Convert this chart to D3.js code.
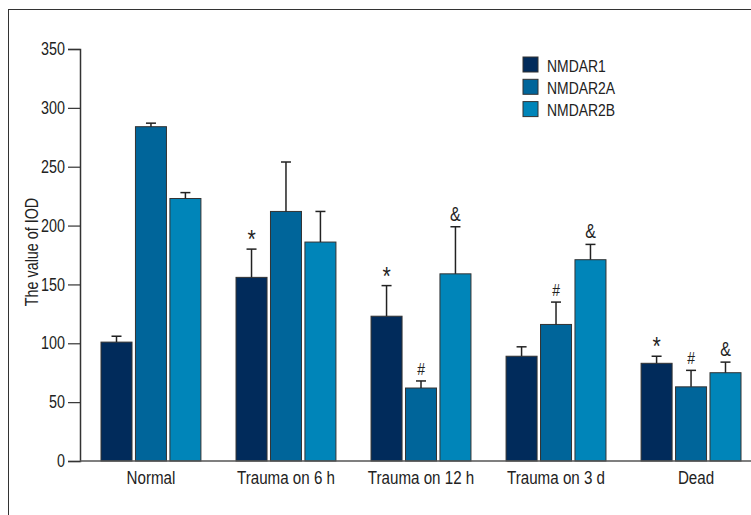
<!DOCTYPE html>
<html>
<head>
<meta charset="utf-8">
<script src="https://cdn.jsdelivr.net/npm/d3@7"></script>
<style>
  body { margin: 0; background: #fff; }
  svg text { font-family: "Liberation Sans", Arial, sans-serif; fill: #222; }
</style>
</head>
<body>
<svg id="chart"></svg>
<script>
// groups along the x axis
const groups = ["Normal", "Trauma on 6 h", "Trauma on 12 h", "Trauma on 3 d", "Dead"];
const series = ["NMDAR1", "NMDAR2A", "NMDAR2B"];

// mean values
const nmdar1 = [101, 156, 123, 89, 83];
const nmdar2a = [284, 212, 62, 116, 63];
const nmdar2b = [223, 186, 159, 171, 75];

// top of the error bars
const nmdar1Err = [106, 180, 149, 97, 89];
const nmdar2aErr = [287, 254, 68, 135, 77];
const nmdar2bErr = [228, 212, 199, 184, 84];

// significance marks (empty = none)
const nmdar1Mark = ["", "*", "*", "", "*"];
const nmdar2aMark = ["", "", "#", "#", "#"];
const nmdar2bMark = ["", "", "&", "&", "&"];

const yTicks = [0, 50, 100, 150, 200, 250, 300, 350];

const colors = ["#012b5b", "#00659a", "#0085b9"];

const width = 751, height = 515;
const narrow = 0.82; // squeeze Liberation Sans to look like a condensed face

const svg = d3.select("#chart").attr("width", width).attr("height", height);

// draws condensed text at x,y
function label(parent, x, y, str, size, anchor, rotate) {
    const g = parent.append("g")
        .attr("transform", `translate(${x},${y})` + (rotate ? ` rotate(${rotate})` : "") + ` scale(${narrow},1)`);
    return g.append("text")
        .attr("text-anchor", anchor || "middle")
        .style("font-size", size + "px")
        .text(str);
}

// figure frame
svg.append("rect")
    .attr("x", 8.5).attr("y", 9.5)
    .attr("width", 760).attr("height", 520)
    .attr("fill", "none")
    .attr("stroke", "#333")
    .attr("stroke-width", 1);

const x0 = d3.scaleBand().domain(groups).range([101, 741]).paddingInner(0.26);
const x1 = d3.scaleBand().domain(series).range([0, x0.bandwidth()]).paddingInner(0.1);
const y = d3.scaleLinear().domain([0, 350]).range([461, 49]);

const values = [nmdar1, nmdar2a, nmdar2b];
const errs = [nmdar1Err, nmdar2aErr, nmdar2bErr];
const marks = [nmdar1Mark, nmdar2aMark, nmdar2bMark];

const table = [];
groups.forEach((g, i) => {
    series.forEach((s, j) => {
        table.push({ group: g, key: s, idx: j, value: values[j][i], err: errs[j][i], mark: marks[j][i] });
    });
});

// bars
svg.append("g").selectAll("rect")
    .data(table)
    .join("rect")
    .attr("x", d => x0(d.group) + x1(d.key))
    .attr("y", d => y(d.value))
    .attr("width", x1.bandwidth())
    .attr("height", d => y(0) - y(d.value))
    .attr("fill", d => colors[d.idx])
    .attr("stroke", "#333")
    .attr("stroke-width", 1);

// error bars (upper only)
const eg = svg.append("g").attr("stroke", "#222").attr("stroke-width", 1.5);
table.forEach(d => {
    const cx = x0(d.group) + x1(d.key) + x1.bandwidth() / 2;
    eg.append("line").attr("x1", cx).attr("x2", cx).attr("y1", y(d.value)).attr("y2", y(d.err));
    eg.append("line").attr("x1", cx - 5).attr("x2", cx + 5).attr("y1", y(d.err)).attr("y2", y(d.err));
});

// significance marks
const mg = svg.append("g");
table.filter(d => d.mark).forEach(d => {
    const cx = x0(d.group) + x1(d.key) + x1.bandwidth() / 2;
    if (d.mark === "*") {
        label(mg, cx, y(d.err) - 1, d.mark, 26);
    } else if (d.mark === "#") {
        label(mg, cx, y(d.err) - 6, d.mark, 17);
    } else {
        label(mg, cx, y(d.err) - 6, d.mark, 19.5);
    }
});

// y axis
const yAxis = svg.append("g")
    .attr("transform", "translate(80,0)")
    .call(d3.axisLeft(y).tickValues(yTicks).tickSize(12).tickPadding(4));
yAxis.select(".domain").attr("stroke", "#333").attr("stroke-width", 1.5);
yAxis.selectAll(".tick line").attr("stroke", "#333").attr("stroke-width", 1.2);
yAxis.selectAll(".tick text")
    .attr("x", -15 / narrow)
    .attr("transform", `scale(${narrow},1)`)
    .style("font-size", "17.5px")
    .attr("fill", "#222");

// x axis line
svg.append("line")
    .attr("x1", 80).attr("x2", width)
    .attr("y1", y(0)).attr("y2", y(0))
    .attr("stroke", "#555").attr("stroke-width", 1.5);

// x labels
const xl = svg.append("g");
groups.forEach(g => {
    label(xl, x0(g) + x0.bandwidth() / 2 + (g === "Dead" ? 5 : 0), 484, g, 18.5);
});

// y title
label(svg, 38, 252, "The value of IOD", 17.5, "middle", -90);

// legend
const legend = svg.append("g").attr("transform", "translate(523,57)");
series.forEach((s, j) => {
    const row = legend.append("g").attr("transform", `translate(0,${j * 22.3})`);
    row.append("rect")
        .attr("width", 15).attr("height", 15)
        .attr("fill", colors[j])
        .attr("stroke", "#333").attr("stroke-width", 1);
    label(row, 24, 14.5, s, 17, "start");
});
</script>
</body>
</html>
